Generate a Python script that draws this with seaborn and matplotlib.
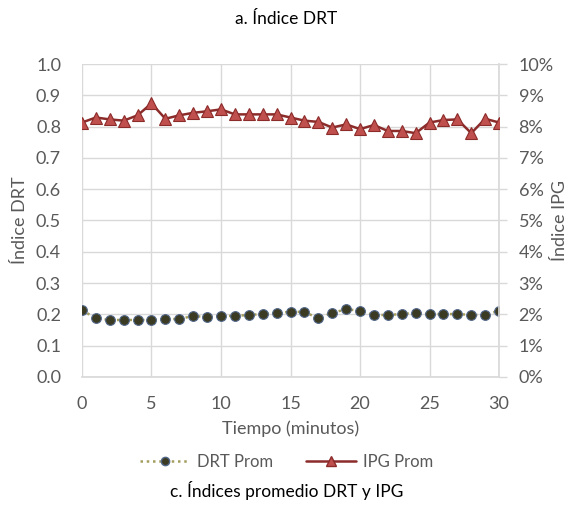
import numpy as np
import pandas as pd
import matplotlib
matplotlib.use("Agg")
import matplotlib.pyplot as plt
from matplotlib.lines import Line2D
from matplotlib.ticker import FuncFormatter, MultipleLocator
import seaborn as sns

minutes = list(range(31))
drt_prom = [0.214, 0.187, 0.182, 0.182, 0.182, 0.182, 0.185, 0.185, 0.195, 0.191,
            0.195, 0.195, 0.198, 0.201, 0.205, 0.208, 0.208, 0.187, 0.205, 0.216,
            0.212, 0.198, 0.198, 0.201, 0.205, 0.201, 0.201, 0.201, 0.198, 0.198,
            0.212]
ipg_prom = [0.0813, 0.0829, 0.0823, 0.0819, 0.0836, 0.0874, 0.0825, 0.0836, 0.0844, 0.0849,
            0.0855, 0.0839, 0.0839, 0.0839, 0.0839, 0.0829, 0.0819, 0.0815, 0.0797, 0.0807,
            0.0792, 0.0805, 0.0786, 0.0786, 0.0779, 0.0813, 0.0821, 0.0823, 0.0779, 0.0825,
            0.0813]

df = pd.DataFrame({"Tiempo": minutes, "DRT": drt_prom, "IPG": ipg_prom})

sns.set_theme(style="white")
plt.rcParams["font.family"] = ["Lato", "DejaVu Sans"]

GRID = "#d9d9d9"
TXT = "#595959"

fig = plt.figure(figsize=(5.73, 5.08), dpi=100)
ax = fig.add_axes([0.143, 0.258, 0.728, 0.616])
ax2 = ax.twinx()

# DRT on the left axis: dark dots joined by a dotted olive line
sns.lineplot(data=df, x="Tiempo", y="DRT", ax=ax, color="#a39d5e", linestyle=(0, (1, 1.5)),
             linewidth=1.8, marker="o", markersize=7, markerfacecolor="#3b3a22",
             markeredgecolor="#52678a", markeredgewidth=0.8, zorder=3)
# IPG on the right axis: red triangles
sns.lineplot(data=df, x="Tiempo", y="IPG", ax=ax2, color="#8b2b2a", linewidth=1.8,
             marker="^", markersize=8, markerfacecolor="#c0504d",
             markeredgecolor="#8b2b2a", markeredgewidth=0.8, zorder=3)

ax.set_xlim(0, 30)
ax.set_ylim(0, 1.0)
ax2.set_ylim(0, 0.10)
ax.xaxis.set_major_locator(MultipleLocator(5))
ax.yaxis.set_major_locator(MultipleLocator(0.1))
ax2.yaxis.set_major_locator(MultipleLocator(0.01))
ax.yaxis.set_major_formatter(FuncFormatter(lambda v, p: f"{v:.1f}"))
ax2.yaxis.set_major_formatter(FuncFormatter(lambda v, p: f"{v*100:.0f}%"))

ax.grid(True, color=GRID, linewidth=1.0)
ax.set_axisbelow(True)
for a in (ax, ax2):
    for s in a.spines.values():
        s.set_visible(False)
ax2.spines["right"].set_visible(True)
ax2.spines["right"].set_color(GRID)
ax.spines["bottom"].set_visible(True)
ax.spines["bottom"].set_color(GRID)

ax.tick_params(axis="x", colors=TXT, labelsize=13, length=0, pad=14)
ax.tick_params(axis="y", colors=TXT, labelsize=13, length=0, pad=15)
ax2.tick_params(axis="y", colors=TXT, labelsize=13, length=6, width=1, direction="out", pad=8)
ax2.tick_params(axis="y", color=GRID)

ax.set_xlabel("Tiempo (minutos)", color=TXT, fontsize=13, labelpad=6)
ax.set_ylabel("Índice DRT", color=TXT, fontsize=13, labelpad=6)
ax2.set_ylabel("Índice IPG", color=TXT, fontsize=13, labelpad=-1)

fig.text(0.5, 0.962, "a. Índice DRT", ha="center", va="center", fontsize=12.5, color="black")
fig.text(0.5, 0.035, "c. Índices promedio DRT y IPG", ha="center", va="center", fontsize=12.5, color="black")

handles = [
    Line2D([], [], color="#a39d5e", linestyle=(0, (1, 1.5)), linewidth=1.8, marker="o",
           markersize=6, markerfacecolor="#3b3a22", markeredgecolor="#52678a"),
    Line2D([], [], color="#8b2b2a", linewidth=1.8, marker="^", markersize=7,
           markerfacecolor="#c0504d", markeredgecolor="#8b2b2a"),
]
fig.legend(handles, ["DRT Prom", "IPG Prom"], loc="center", bbox_to_anchor=(0.5, 0.09),
           ncol=2, frameon=False, fontsize=12, labelcolor=TXT, handlelength=3.0,
           columnspacing=2.0, handletextpad=0.4)

fig.savefig("out.png", dpi=100)
